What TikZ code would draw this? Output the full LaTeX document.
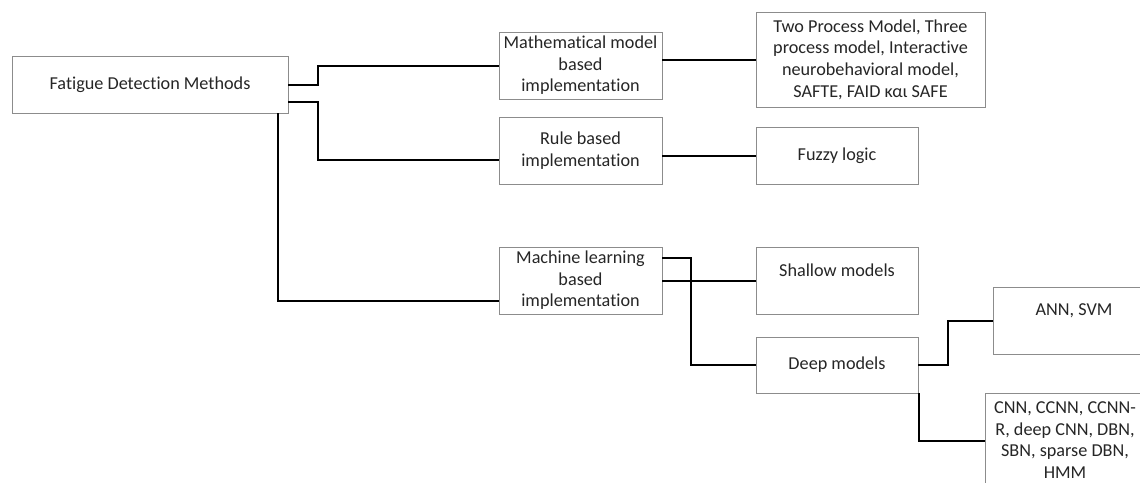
\documentclass[tikz,border=0pt]{standalone}
\usepackage{fontspec}
\setmainfont{Carlito}[Ligatures=CommonOff]
\begin{document}
\begin{tikzpicture}[x=1pt,y=-1pt,
  box/.style={draw=black!45, line width=0.9pt, fill=white, inner sep=0pt,
    align=center, text=black!85, font=\fontsize{18.2}{21.6}\selectfont},
  conn/.style={draw=black, line width=2pt}]
\clip (0,0) rectangle (1140,482);
\fill[white] (0,0) rectangle (1140,482);

% boxes (width x height, centred)
\node[box, minimum width=276pt, minimum height=57pt] (fdm) at (150,84.5) {Fatigue Detection Methods};
\node[box, minimum width=163pt, minimum height=67pt] (math) at (580.5,65.5) {Mathematical model\\based\\implementation};
\node[box, minimum width=163pt, minimum height=67pt] (rule) at (580.5,150.5) {Rule based\\implementation};
\node[box, minimum width=163pt, minimum height=67pt] (ml) at (580.5,280.5) {Machine learning\\based\\implementation};
\node[box, minimum width=229pt, minimum height=95pt] (two) at (870.5,59.5) {Two Process Model, Three\\process model, Interactive\\neurobehavioral model,\\SAFTE, FAID και SAFE};
\node[box, minimum width=162pt, minimum height=57pt] (fuzzy) at (837,155.5) {Fuzzy logic};
\node[box, minimum width=162pt, minimum height=67pt] (shallow) at (837,280.5) {Shallow models\\\mbox{}};
\node[box, minimum width=162pt, minimum height=56pt] (deep) at (837,365) {Deep models};
\node[box, minimum width=162pt, minimum height=67pt] (ann) at (1074,320.5) {ANN, SVM\\\mbox{}};
\node[box, minimum width=160pt, minimum height=94pt] (cnn) at (1065,440) {CNN, CCNN, CCNN-\\R, deep CNN, DBN,\\SBN, sparse DBN,\\HMM};

% connectors
\draw[conn] (fdm.east) -- ++(30,0) |- (math.west);
\draw[conn] ([yshift=-17.5pt]fdm.east) -- ++(30,0) |- ([yshift=-9.5pt]rule.west);
\draw[conn] ([xshift=-10pt]fdm.south east) |- ([yshift=-20.5pt]ml.west);
\draw[conn] (math.east |- two.west) -- (two.west);
\draw[conn] (rule.east |- fuzzy.west) -- (fuzzy.west);
\draw[conn] (ml.east) -- (shallow.west);
\draw[conn] ([yshift=22.5pt]ml.east) -- ++(29,0) |- (deep.west);
\draw[conn] (deep.east) -- ++(30,0) |- (ann.west);
\draw[conn] ([xshift=1pt]deep.south east) |- ([yshift=-1pt]cnn.west);
\end{tikzpicture}
\end{document}
